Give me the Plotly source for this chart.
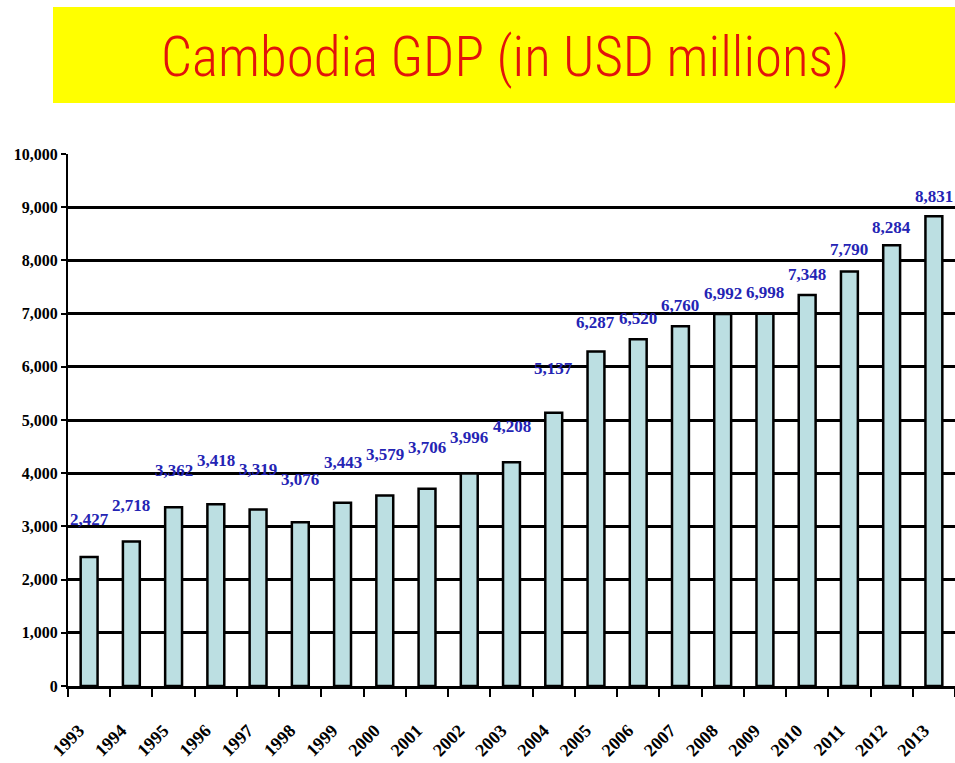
import plotly.graph_objects as go

# Cambodia GDP, USD millions
years = [str(y) for y in range(1993, 2014)]
gdp = [2427, 2718, 3362, 3418, 3319, 3076, 3443, 3579, 3706, 3996, 4208,
       5137, 6287, 6520, 6760, 6992, 6998, 7348, 7790, 8284, 8831]
# how far (px) each value label sits above its bar
label_lift = [37, 36, 37, 44, 40, 43, 40, 41, 41, 36, 36,
              44, 29, 21, 21, 21, 21, 21, 22, 18, 20]
y_ticks = list(range(0, 10001, 1000))

W, H = 955, 763
ML, MR, MT, MB = 68, 0, 154, 77
PW, PH = W - ML - MR, H - MT - MB


def px_x(x):
    return (x - ML) / PW


def px_y(y):
    return (H - MB - y) / PH


SERIF = "Liberation Serif, Times New Roman, serif"
NARROW = "Liberation Sans Narrow, Arial Narrow, Roboto Condensed, sans-serif"

fig = go.Figure(go.Bar(
    x=years, y=gdp, width=0.4,
    marker=dict(color="#BCDFE2", line=dict(color="black", width=2.5)),
    hoverinfo="x+y",
))

# value labels (x given as category index so the year strings stay categorical)
for i, (v, lift) in enumerate(zip(gdp, label_lift)):
    fig.add_annotation(
        x=i, y=v, text=f"{v:,}", showarrow=False,
        xanchor="center", yanchor="middle", yshift=lift,
        font=dict(family=SERIF, size=17, color="#2424B4", weight="bold"),
    )

# title banner
fig.add_shape(type="rect", xref="paper", yref="paper",
              x0=px_x(53), x1=px_x(960), y0=px_y(103), y1=px_y(7),
              fillcolor="#FFFF00", line=dict(width=0), layer="below")
fig.add_annotation(
    xref="paper", yref="paper", x=px_x(505), y=px_y(57),
    text="Cambodia GDP (in USD millions)", showarrow=False,
    xanchor="center", yanchor="middle",
    font=dict(family=NARROW, size=55, color="#E2130B", weight=350),
)

fig.update_layout(
    width=W, height=H,
    margin=dict(l=ML, r=MR, t=MT, b=MB, pad=0),
    paper_bgcolor="white", plot_bgcolor="white",
    showlegend=False,
    bargap=0.6,
    xaxis=dict(
        type="category", range=[-0.5, 20.5], automargin=False,
        showline=True, linecolor="black", linewidth=3,
        ticks="outside", tickson="boundaries", ticklen=8, tickwidth=2,
        tickcolor="black", tickangle=-45,
        ticklabelstandoff=24, ticklabelshift=-10,
        tickfont=dict(family=SERIF, size=18, color="black", weight="bold"),
        showgrid=False, zeroline=False,
    ),
    yaxis=dict(
        range=[0, 10000], tickvals=y_ticks, tickformat=",", automargin=False,
        showline=True, linecolor="black", linewidth=2,
        ticks="outside", ticklen=5, tickwidth=2, tickcolor="black",
        tickfont=dict(family=SERIF, size=16, color="black", weight="bold"),
        showgrid=True, gridcolor="black", gridwidth=2.5,
        zeroline=False,
    ),
)

fig.write_html("out.html")
